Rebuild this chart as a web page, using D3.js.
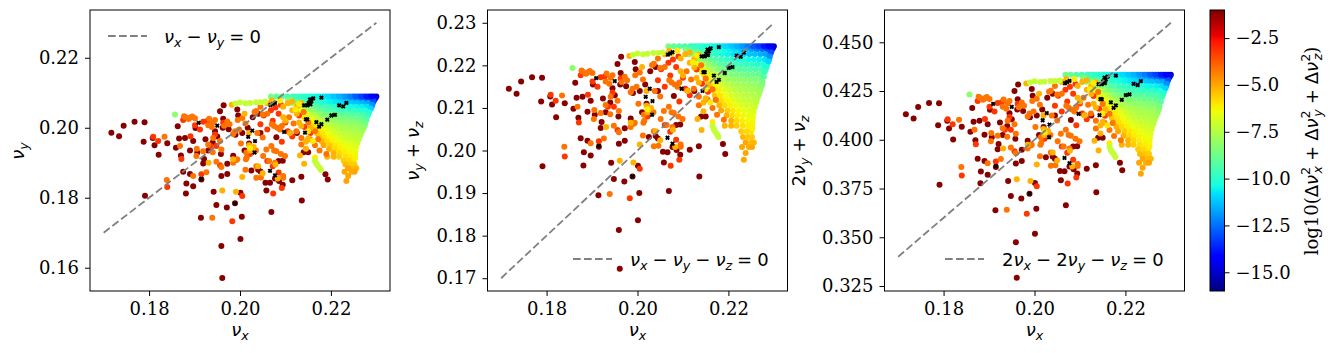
<!DOCTYPE html>
<html>
<head>
<meta charset="utf-8">
<script src="https://cdn.jsdelivr.net/npm/d3@7"></script>
<style>
  html, body { margin: 0; padding: 0; background: #fff; }
  svg { display: block; }
</style>
</head>
<body>
<svg id="chart" width="1339" height="353"></svg>
<script>
// scattered points: [nu_x, nu_y, nu_z]
const darkPoints = [
  [.1717,.1986,.0159],[.1734,.1976,.0157],[.1744,.2006,.0156],[.1768,.2017,.0155],[.1790,.2016,.0155],
  [.1788,.1960,.0155],[.1808,.1971,.0156],[.1812,.1950,.0158],[.1821,.1923,.0155],[.1840,.1956,.0155],
  [.1859,.1943,.0155],[.1791,.1806,.0157],[.1866,.1969,.0155],[.1879,.1971,.0155],[.1870,.1921,.0156],
  [.1863,.2004,.0155],[.1890,.1935,.0156],[.1875,.1874,.0155],[.1890,.1868,.0155],[.1882,.1841,.0155],
  [.1881,.1812,.0153],[.1897,.1833,.0155],[.1902,.1999,.0156],[.1897,.1962,.0155],[.1906,.1929,.0155],
  [.1919,.1898,.0155],[.1921,.1911,.0156],[.1924,.1967,.0155],[.1915,.1852,.0157],[.1914,.1743,.0152],
  [.1942,.1817,.0154],[.1948,.1779,.0154],[.1959,.1862,.0154],[.1959,.1662,.0151],[.1961,.1571,.0151],
  [.2001,.1682,.0154],[.2004,.1746,.0154],[.1971,.1772,.0155],[.1989,.1784,.0155],[.2001,.1814,.0150],
  [.2069,.1759,.0146],[.2136,.1792,.0147],[.2058,.1821,.0151],[.2115,.1850,.0152],[.2135,.1860,.0150],
  [.2193,.1852,.0140],[.2188,.1867,.0148],[.2094,.1837,.0153],[.2066,.1843,.0153],[.2056,.1843,.0154],
  [.2077,.1855,.0153],[.2086,.1848,.0153],[.1956,.2047,.0156],[.1964,.2064,.0156],[.1994,.2052,.0156],
  [.1996,.2035,.0156],[.1963,.2026,.0156],[.1945,.1990,.0156],[.1950,.1975,.0155],[.1962,.2000,.0155],
  [.1975,.1996,.0155],[.1990,.1980,.0155],[.2005,.1985,.0155],[.2017,.2000,.0155],[.2010,.1935,.0155],
  [.2040,.1880,.0154],[.2045,.1875,.0153],[.2085,.1905,.0155],[.2094,.1906,.0155],[.1985,.1920,.0155],
  [.1972,.1897,.0155],[.1972,.1868,.0155],[.2040,.2040,.0156],[.2045,.1985,.0155],[.2080,.1973,.0155],
  [.2125,.1985,.0155],[.2140,.1930,.0150],[.2150,.1930,.0150],[.2025,.1878,.0154],[.2020,.1955,.0155],
  [.2028,.2030,.0156],[.1940,.1958,.0155],[.1930,.1935,.0155],[.1958,.1925,.0155]
];
const redPoints = [
  [.1809,.1974,.0157],[.1820,.1962,.0155],[.1840,.1831,.0155],[.1871,.1911,.0155],[.1875,.2022,.0155],
  [.1891,.1976,.0155],[.1912,.1995,.0155],[.1901,.2007,.0155],[.1928,.2019,.0155],[.1919,.2017,.0155],
  [.1963,.2014,.0155],[.1945,.1981,.0155],[.1948,.1948,.0155],[.1935,.1948,.0155],[.1956,.1893,.0155],
  [.1915,.1867,.0155],[.2005,.1805,.0152],[.1983,.1733,.0155],[.2045,.2010,.0155],[.2060,.1995,.0155],
  [.2072,.2020,.0156],[.2085,.2040,.0156],[.2052,.2035,.0156],[.2092,.1960,.0155],[.2105,.1990,.0155],
  [.2115,.1975,.0155],[.2022,.1925,.0155],[.2060,.1905,.0155],[.2072,.1890,.0154],[.2092,.1828,.0150],
  [.2073,.1812,.0152],[.2085,.1872,.0153],[.2100,.2015,.0156],[.2068,.2050,.0156],[.2078,.2058,.0156],
  [.2090,.2065,.0156],[.2130,.2035,.0155],[.2142,.2002,.0155],[.2155,.1985,.0153]
];
const orangePoints = [
  [.1834,.1974,.0155],[.1839,.1851,.0158],[.1868,.1948,.0155],[.1877,.2033,.0155],[.1891,.2029,.0155],
  [.1901,.2027,.0155],[.1932,.2026,.0155],[.1941,.2016,.0155],[.1930,.2007,.0155],[.1977,.2010,.0155],
  [.1956,.1962,.0155],[.1948,.1903,.0155],[.1959,.1888,.0155],[.1926,.1873,.0155],[.1897,.1862,.0155],
  [.1939,.1743,.0155],[.1992,.1908,.0155],[.1985,.1982,.0155],[.1998,.1995,.0155],[.2012,.2012,.0155],
  [.2032,.2045,.0156],[.2045,.2060,.0156],[.2060,.2040,.0156],[.2075,.2005,.0155],[.2050,.1972,.0155],
  [.2035,.1935,.0155],[.2015,.1915,.0155],[.2012,.1880,.0155],[.2046,.1858,.0153],[.2064,.1905,.0155],
  [.2075,.1935,.0155],[.2090,.1925,.0155],[.2095,.1862,.0152],[.2088,.1995,.0155],[.2108,.2030,.0156],
  [.2118,.2012,.0155],[.2140,.2045,.0155],[.2150,.2015,.0154],[.2165,.1950,.0150],[.2175,.1935,.0149],
  [.2190,.1925,.0147],[.1905,.1940,.0155],[.1940,.1930,.0155],[.2002,.1955,.0155],[.2038,.1985,.0155],
  [.1880,.2030,.0155],[.1887,.2025,.0155],[.1895,.2032,.0155],[.1938,.2002,.0155],[.1945,.2022,.0155],
  [.1965,.2006,.0155],[.1972,.2018,.0155],[.1995,.2022,.0155],[.2005,.2028,.0155],[.2036,.2048,.0156],
  [.2050,.2038,.0156],[.2070,.2010,.0155],[.2082,.2000,.0155],[.2092,.2005,.0155],[.1930,.1952,.0155],
  [.1941,.1971,.0155],[.1919,.1933,.0155],[.1904,.1919,.0155],[.1989,.1990,.0155],[.1959,.1938,.0155],
  [.1985,.1900,.0155],[.1994,.1910,.0155],[.2014,.1929,.0155],[.2013,.1910,.0155],[.2036,.1890,.0155],
  [.2051,.1919,.0155],[.2058,.1938,.0155],[.2069,.1948,.0155],[.2080,.1933,.0155],[.2099,.1919,.0155],
  [.2036,.1857,.0153],[.2095,.1857,.0152],[.2077,.1900,.0155],[.2110,.1986,.0155],[.2124,.1990,.0155],
  [.2135,.1971,.0155],[.2135,.1952,.0154],[.2154,.1967,.0153],[.2165,.1990,.0154],[.2172,.1967,.0152]
];
const amberPoints = [
  [.1982,.2066,.0156],[.1931,.1900,.0155],[.1985,.1910,.0155],[.1961,.1821,.0155],[.1991,.1817,.0155],
  [.2005,.1859,.0155],[.2020,.1950,.0155],[.2030,.1945,.0155],[.2022,.1935,.0155],[.2040,.1890,.0155],
  [.2050,.1870,.0154],[.2078,.1895,.0154],[.2083,.1855,.0153],[.2100,.2020,.0156],[.2132,.1921,.0153],
  [.2141,.1897,.0151],[.2095,.2030,.0156],[.2115,.2050,.0156],[.2125,.2040,.0155],[.2135,.2005,.0155],
  [.2020,.1985,.0155],[.2105,.2070,.0156],[.2095,.2060,.0156],[.2145,.1960,.0153],[.2150,.1970,.0153],
  [.2155,.2000,.0154],[.2130,.2015,.0155],[.2110,.1985,.0155],[.2010,.2040,.0156],[.2145,.1940,.0152],
  [.2125,.2060,.0155],[.2135,.2070,.0155],[.2115,.2075,.0155],[.2070,.2078,.0156],[.2060,.2070,.0156]
];
const yellowPoints = [
  [.2122,.2052,.0155],[.2130,.2068,.0155],[.2142,.2028,.0155],[.2150,.1990,.0154],[.2160,.1962,.0151],
  [.2165,.1915,.0152],[.2022,.1942,.0155],[.2075,.2072,.0156],[.2088,.2078,.0156]
];
const limePoints = [
  [.1990,.2069,.0156],[.2000,.2072,.0156],[.2012,.2070,.0156],[.2022,.2071,.0156],[.2035,.2073,.0156],
  [.2045,.2073,.0156],[.2055,.2074,.0156],[.2165,.1905,.0152],[.2168,.1898,.0152],[.2171,.1892,.0152],
  [.2175,.1886,.0152],[.2178,.1880,.0152]
];
const greenPoints = [[.1857,.2038,.0156]];

// colour value of each scatter group, log10 of the residual
const darkLog = -1.1, redLog = -3.2, orangeLog = -4.2, amberLog = -5.2;
const yellowLog = -6.1, limeLog = -7.2, greenLog = -8.2;

// dense wedge in the upper right, one row per list
const wedgeY = [.2089,.2081,.2071,.2060,.2049,.2038,.2027,.2016,.2005,.1994,.1983,.1972,.1961,.1950,.1939,.1928,.1917,.1906,.1895,.1884,.1874,.1862,.1848];
const wedgeZ = [.0156,.0156,.0155,.0154,.0153,.0152,.0151,.0150,.0149,.0148,.0147,.0146,.0145,.0144,.0143,.0142,.0141,.0139,.0137,.0135,.0134,.0132,.0130];
const wedgeX = [
  [.2068,.2080,.2092,.2104,.2116,.2128,.2140,.2152,.2164,.2176,.2188,.2200,.2212,.2224,.2236,.2248,.2260,.2272,.2284,.2294,.2300],
  [.2106,.2118,.2130,.2142,.2154,.2166,.2178,.2190,.2202,.2214,.2226,.2238,.2250,.2262,.2274,.2286,.2296],
  [.2114,.2126,.2138,.2150,.2162,.2174,.2186,.2198,.2210,.2222,.2234,.2246,.2258,.2270,.2282,.2292],
  [.2124,.2136,.2148,.2160,.2172,.2184,.2196,.2208,.2220,.2232,.2244,.2256,.2268,.2280,.2290],
  [.2132,.2144,.2156,.2168,.2180,.2192,.2204,.2216,.2228,.2240,.2252,.2264,.2276,.2285],
  [.2140,.2152,.2164,.2176,.2188,.2200,.2212,.2224,.2236,.2248,.2260,.2272,.2282],
  [.2146,.2158,.2170,.2182,.2194,.2206,.2218,.2230,.2242,.2254,.2266,.2276],
  [.2152,.2164,.2176,.2188,.2200,.2212,.2224,.2236,.2248,.2260,.2272],
  [.2160,.2172,.2184,.2196,.2208,.2220,.2232,.2244,.2256,.2268,.2274],
  [.2166,.2178,.2190,.2202,.2214,.2226,.2238,.2250,.2262,.2270],
  [.2170,.2182,.2194,.2206,.2218,.2230,.2242,.2254,.2266],
  [.2174,.2186,.2198,.2210,.2222,.2234,.2246,.2258,.2262],
  [.2180,.2192,.2204,.2216,.2228,.2240,.2252,.2258],
  [.2184,.2198,.2210,.2222,.2234,.2246,.2255],
  [.2196,.2208,.2220,.2232,.2244,.2253],
  [.2206,.2218,.2230,.2242,.2252],
  [.2192,.2206,.2218,.2232,.2244,.2252],
  [.2228,.2240,.2250],
  [.2232,.2243,.2252],
  [.2238,.2250,.2256],
  [.2230,.2245,.2252],
  [.2238],
  [.2234]
];
const wedgeLog = [
  [-8.6,-8.9,-9.2,-9.5,-9.7,-9.8,-10,-10.2,-10.4,-10.6,-10.8,-11,-11.3,-11.7,-12.1,-12.6,-13,-13.5,-14,-14.6,-15.2],
  [-8.4,-8.8,-9.1,-9.4,-9.6,-9.9,-10.1,-10.4,-10.6,-10.9,-11.2,-11.5,-11.8,-12.2,-12.6,-13.2,-13.8],
  [-8.3,-8.6,-9,-9.4,-9.8,-10,-10.3,-10.5,-10.7,-10.9,-11,-11.2,-11.3,-11.5,-11.7,-12],
  [-7,-7.8,-8.4,-8.9,-9.3,-9.6,-9.8,-10,-10.2,-10.3,-10.4,-10.5,-10.6,-10.8,-11],
  [-6.6,-7.4,-8,-8.6,-9,-9.3,-9.5,-9.6,-9.7,-9.8,-9.9,-10,-10.1,-10.2],
  [-6.2,-6.9,-7.6,-8.2,-8.6,-8.9,-9,-9.1,-9.2,-9.3,-9.4,-9.5,-9.6],
  [-6,-6.6,-7.2,-7.8,-8.2,-8.4,-8.5,-8.6,-8.7,-8.8,-8.9,-9],
  [-5.8,-6.4,-7,-7.5,-7.8,-8,-8.1,-8.2,-8.3,-8.4,-8.5],
  [-5.8,-6.3,-6.8,-7.2,-7.5,-7.7,-7.8,-7.9,-8,-8.1,-8.2],
  [-5.6,-6.1,-6.6,-7,-7.3,-7.5,-7.6,-7.7,-7.8,-7.9],
  [-5.5,-6,-6.4,-6.8,-7.1,-7.3,-7.4,-7.5,-7.6],
  [-5.4,-5.9,-6.3,-6.6,-6.9,-7.1,-7.2,-7.3,-7.4],
  [-5.2,-5.8,-6.2,-6.5,-6.7,-6.9,-7,-7.1],
  [-5,-5.6,-6,-6.3,-6.5,-6.7,-6.8],
  [-5.2,-5.8,-6.1,-6.3,-6.5,-6.6],
  [-5.2,-5.8,-6.1,-6.3,-6.4],
  [-5.2,-5.2,-5.6,-5.9,-6.1,-6.2],
  [-5.6,-5.8,-5.9],
  [-5.3,-5.5,-5.6],
  [-5,-5.3,-5.3],
  [-5,-5.1,-5],
  [-5],
  [-5]
];

// extra points along the right and top edges of the wedge: [nu_x, nu_y, nu_z, log]
const edgePoints = [
  [.2298,.2085,.0156,-14.5],[.2294,.2076,.0155,-13],[.2291,.2066,.0155,-12],[.2288,.2055,.0154,-11],
  [.2284,.2044,.0153,-10.2],[.2280,.2033,.0152,-9.7],[.2278,.2022,.0151,-9.2],[.2275,.2011,.0150,-8.6],
  [.2272,.2000,.0149,-8.2],[.2268,.1989,.0148,-7.8],[.2264,.1978,.0147,-7.5],[.2261,.1967,.0146,-7.3],
  [.2258,.1956,.0145,-7],[.2255,.1945,.0144,-6.7],[.2254,.1934,.0143,-6.5],[.2253,.1923,.0142,-6.3],
  [.2253,.1912,.0140,-6.2],
  [.2122,.2089,.0156,-9.7],[.2134,.2089,.0156,-9.9],[.2146,.2089,.0156,-10.1],[.2158,.2089,.0156,-10.3],
  [.2170,.2089,.0156,-10.5],[.2182,.2089,.0156,-10.7],[.2194,.2089,.0156,-10.9],[.2206,.2089,.0156,-11.2],
  [.2218,.2089,.0156,-11.5],[.2230,.2089,.0156,-11.9],[.2242,.2089,.0156,-12.3],[.2254,.2089,.0156,-12.8],
  [.2266,.2089,.0156,-13.2],[.2278,.2089,.0156,-13.8],[.2289,.2089,.0156,-14.3]
];

// black crosses: [nu_x, nu_y, nu_z]
const crossPoints = [
  [.1909,.2014,.0156],[.1950,.2006,.0157],[.2027,.1992,.0153],[.2018,.1974,.0152],[.2033,.1962,.0154],
  [.2032,.1929,.0155],[.1915,.1854,.0157],[.2066,.1877,.0153],[.2077,.1864,.0152],[.1989,.1784,.0155],
  [.2097,.1988,.0157],[.2143,.1986,.0154],[.2067,.2065,.0160],[.2077,.2071,.0160],[.2072,.2068,.0160],
  [.2141,.2064,.0157],[.2148,.2064,.0157],[.2154,.2081,.0156],[.2161,.2084,.0156],[.2151,.2071,.0157],
  [.2157,.2076,.0157],[.2155,.2067,.0157],[.2179,.2086,.0157],[.2145,.2024,.0160],[.2148,.2024,.0160],
  [.2168,.2016,.0160],[.2179,.2010,.0156],[.2174,.2003,.0158],[.2192,.2023,.0159],[.2201,.2035,.0159],
  [.2209,.2037,.0159],[.2218,.2064,.0159],[.2227,.2061,.0159],[.2234,.2071,.0159]
];

const xTicks = [.18, .20, .22];
const y1Ticks = [.16, .18, .20, .22];
const y2Ticks = [.17, .18, .19, .20, .21, .22, .23];
const y3Ticks = [.325, .35, .375, .40, .425, .45];
const barTicks = [-2.5, -5, -7.5, -10, -12.5, -15];

const svg = d3.select('#chart');
const plotTop = 10, plotBottom = 291;
const sans = '"DejaVu Sans"', serif = '"DejaVu Serif"';

// jet colormap channels
const jetR = d3.scaleLinear([0, .35, .66, .89, 1], [0, 0, 1, 1, .5]);
const jetG = d3.scaleLinear([0, .125, .375, .64, .91, 1], [0, 0, 1, 1, 0, 0]);
const jetB = d3.scaleLinear([0, .11, .34, .65, 1], [.5, 1, 1, 0, 0]);
const jet = t => d3.rgb(jetR(t) * 255, jetG(t) * 255, jetB(t) * 255).formatHex();
const logToT = d3.scaleLinear([-16, -1], [0, 1]).clamp(true);

function group(points, log) {
  return points.map(p => ({ x: p[0], y: p[1], z: p[2], log }));
}
const wedge = wedgeY.flatMap((y, i) => wedgeX[i].map((x, j) => ({ x, y, z: wedgeZ[i], log: wedgeLog[i][j] })));
const edge = edgePoints.map(p => ({ x: p[0], y: p[1], z: p[2], log: p[3] }));
const scatter = [
  ...wedge,
  ...edge,
  ...group(darkPoints, darkLog),
  ...group(redPoints, redLog),
  ...group(orangePoints, orangeLog),
  ...group(amberPoints, amberLog),
  ...group(yellowPoints, yellowLog),
  ...group(limePoints, limeLog),
  ...group(greenPoints, greenLog)
];
const crosses = group(crossPoints, 0);

// mathtext-like label: parts are [text, style, dx in em]
function mathLabel(g, parts, size, attrs) {
  const t = g.append('text').attr('font-size', size).attr('fill', '#000');
  Object.entries(attrs).forEach(([k, v]) => t.attr(k, v));
  let level = 0;
  parts.forEach(([txt, kind, dx]) => {
    const shift = kind === 'sub' ? 0.2 * size : kind === 'sup' ? -0.42 * size : 0;
    const small = kind === 'sub' || kind === 'sup';
    t.append('tspan')
      .text(txt)
      .attr('dy', shift - level)
      .attr('dx', (dx || 0) * size)
      .attr('font-size', small ? size * 0.7 : size)
      .style('font-family', kind === 'serif' ? serif : sans)
      .attr('font-style', kind === 'i' || (small && txt !== '2') ? 'italic' : 'normal');
    level = shift;
  });
  return t;
}
const gap = 0.28;
const nu = (s, pre) => [['ν', 'i', pre || 0], [s, 'sub']];
const op = s => [s, 'n', gap];

// tick labels in the serif face, ticks 1px black
function styleAxis(a) {
  a.select('.domain').remove();
  a.selectAll('.tick text').style('font-family', serif).attr('font-size', 18).style('font-size', '18px').attr('fill', '#000');
  a.selectAll('.tick line').attr('stroke', '#000').attr('stroke-width', 1);
}

const panels = [
  {
    left: 90, yDomain: [.15335, .23365], yTicks: y1Ticks, fmt: '.2f',
    yOf: d => d.y, line: [.17, .23], lx: 24,
    yLabel: [...nu('y')],
    legendX: [108, 147], legendY: 36, textX: 164,
    legend: [...nu('x'), op('−'), ...nu('y', gap), op('='), ['0', 'n', gap]]
  },
  {
    left: 487.5, yDomain: [.167, .233], yTicks: y2Ticks, fmt: '.2f',
    yOf: d => d.y + d.z, line: [.17, .23], lx: 419,
    yLabel: [...nu('y'), op('+'), ...nu('z', gap)],
    legendX: [573, 612], legendY: 259, textX: 630,
    legend: [...nu('x'), op('−'), ...nu('y', gap), op('−'), ...nu('z', gap), op('='), ['0', 'n', gap]]
  },
  {
    left: 884.5, yDomain: [.32245, .46655], yTicks: y3Ticks, fmt: '.3f',
    yOf: d => 2 * d.y + d.z, line: [.34, .46], lx: 805,
    yLabel: [['2', 'n'], ...nu('y'), op('+'), ...nu('z', gap)],
    legendX: [945, 984], legendY: 259, textX: 1002,
    legend: [['2', 'n'], ...nu('x'), op('−'), ['2', 'n', gap], ...nu('y'), op('−'), ...nu('z', gap), op('='), ['0', 'n', gap]]
  }
];

panels.forEach(p => {
  const x = d3.scaleLinear().domain([.167, .233]).range([p.left, p.left + 300]);
  const y = d3.scaleLinear().domain(p.yDomain).range([plotBottom, plotTop]);
  const g = svg.append('g');

  g.append('g').selectAll('circle').data(scatter).join('circle')
    .attr('cx', d => x(d.x))
    .attr('cy', d => y(p.yOf(d)))
    .attr('r', 3)
    .attr('fill', d => jet(logToT(d.log)));

  const cross = d3.symbol().type(d3.symbolX).size(9);
  g.append('g').selectAll('path').data(crosses).join('path')
    .attr('d', cross)
    .attr('transform', d => `translate(${x(d.x)},${y(p.yOf(d))})`)
    .attr('fill', 'none')
    .attr('stroke', '#000')
    .attr('stroke-width', 2);

  g.append('line')
    .attr('x1', x(.17)).attr('x2', x(.23))
    .attr('y1', y(p.line[0])).attr('y2', y(p.line[1]))
    .attr('stroke', 'gray').attr('stroke-width', 1.8)
    .attr('stroke-dasharray', '7.7 3.3');

  // frame
  g.append('rect')
    .attr('x', p.left).attr('y', plotTop).attr('width', 300).attr('height', plotBottom - plotTop)
    .attr('fill', 'none').attr('stroke', '#000').attr('stroke-width', 1);

  const xAxis = d3.axisBottom(x).tickValues(xTicks).tickFormat(d3.format('.2f')).tickSize(5).tickPadding(6).tickSizeOuter(0);
  g.append('g').attr('transform', `translate(0,${plotBottom})`).call(xAxis).call(styleAxis);
  const yAxis = d3.axisLeft(y).tickValues(p.yTicks).tickFormat(d3.format(p.fmt)).tickSize(5).tickPadding(6).tickSizeOuter(0);
  g.append('g').attr('transform', `translate(${p.left},0)`).call(yAxis).call(styleAxis);

  mathLabel(g, nu('x'), 18, { 'text-anchor': 'middle', x: p.left + 150, y: 336 });
  mathLabel(g, p.yLabel, 18, {
    'text-anchor': 'middle',
    transform: `translate(${p.lx},151) rotate(-90)`
  });

  // legend
  g.append('line')
    .attr('x1', p.legendX[0]).attr('x2', p.legendX[1])
    .attr('y1', p.legendY).attr('y2', p.legendY)
    .attr('stroke', 'gray').attr('stroke-width', 1.8)
    .attr('stroke-dasharray', '7.7 3.3');
  mathLabel(g, p.legend, 18, { x: p.textX, y: p.legendY + 7 });
});

// colorbar
const barX = 1210, barW = 14.5;
const barScale = d3.scaleLinear().domain([-16, -1]).range([plotBottom, plotTop]);
const grad = svg.append('defs').append('linearGradient')
  .attr('id', 'jetbar').attr('x1', 0).attr('x2', 0).attr('y1', 1).attr('y2', 0);
grad.selectAll('stop').data(d3.range(0, 257)).join('stop')
  .attr('offset', d => d / 256)
  .attr('stop-color', d => jet(d / 256));
svg.append('rect')
  .attr('x', barX).attr('y', plotTop).attr('width', barW).attr('height', plotBottom - plotTop)
  .attr('fill', 'url(#jetbar)').attr('stroke', '#000').attr('stroke-width', 1);
svg.append('g')
  .attr('transform', `translate(${barX + barW},0)`)
  .call(d3.axisRight(barScale).tickValues(barTicks).tickFormat(d3.format('.1f')).tickSize(5).tickPadding(6).tickSizeOuter(0))
  .call(styleAxis);

const dnu = (s, pre) => [['Δ', 'n', pre || 0], ['ν', 'i'], ['2', 'sup'], [s, 'sub', -0.36]];
mathLabel(svg, [
  ['log10(', 'serif'], ...dnu('x'), op('+'), ...dnu('y', gap), op('+'), ...dnu('z', gap), [')', 'serif']
], 18, { 'text-anchor': 'middle', transform: 'translate(1318,151) rotate(-90)' });
</script>
</body>
</html>
